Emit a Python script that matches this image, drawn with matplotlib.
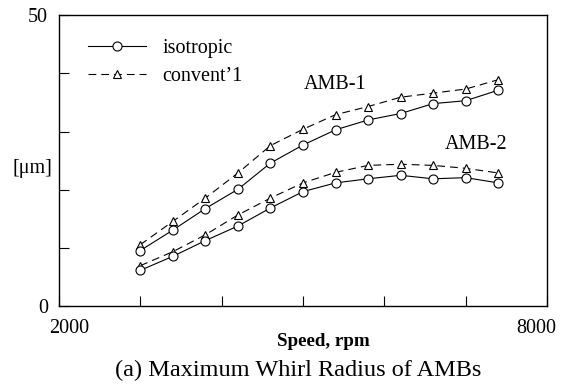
# -*- coding: utf-8 -*-
"""
maximum whirl radius of AMBs vs speed
"""
import matplotlib
matplotlib.use('Agg')
import matplotlib.pyplot as plt
import matplotlib.transforms as mtransforms

#################### data
speed = [3000, 3400, 3800, 4200, 4600, 5000, 5400, 5800, 6200, 6600, 7000, 7400]
amb1_iso  = [9.6, 13.1, 16.8, 20.1, 24.6, 27.7, 30.3, 32.0, 33.1, 34.8, 35.3, 37.1]
amb1_conv = [10.6, 14.6, 18.6, 22.9, 27.6, 30.4, 32.9, 34.3, 35.9, 36.6, 37.3, 38.9]
amb2_iso  = [6.2, 8.6, 11.3, 13.8, 16.9, 19.7, 21.2, 21.9, 22.5, 21.9, 22.1, 21.2]
amb2_conv = [7.0, 9.4, 12.3, 15.7, 18.6, 21.2, 23.0, 24.2, 24.4, 24.2, 23.7, 22.9]

xticks = [2000, 3000, 4000, 5000, 6000, 7000, 8000]
xticklabels = ['2000', '', '', '', '', '', '8000']
yticks = [0, 10, 20, 30, 40, 50]
yticklabels = ['0', '', '', '', '', '50']

plt.rcParams['font.family'] = ['Liberation Serif', 'DejaVu Serif']

#################### plot
fig = plt.figure(figsize=(5.64, 3.85), dpi=100)
ax = fig.add_axes([0.1046, 0.204, 0.8653, 0.757])

solid = dict(color='black', lw=0.8, ls='-', marker='o', ms=6.5,
             mfc='white', mec='black', mew=0.8)
dashed = dict(color='black', lw=0.8, ls=(0, (7, 4.5)), marker='^', ms=6,
              mfc='white', mec='black', mew=0.8)

ax.plot(speed, amb1_conv, label="convent\u20191", **dashed)
ax.plot(speed, amb1_iso, label='isotropic', **solid)
ax.plot(speed, amb2_conv, **dashed)
ax.plot(speed, amb2_iso, **solid)

ax.set_xlim(2000, 8000)
ax.set_ylim(0, 50)
ax.set_xticks(xticks)
ax.set_xticklabels(xticklabels, fontsize=14.5)
ax.set_yticks(yticks)
ax.set_yticklabels(yticklabels, fontsize=14.5)
ax.tick_params(direction='in', length=7, width=0.8, pad=8)
ax.tick_params(axis='x', pad=9)
for sp in ax.spines.values():
    sp.set_linewidth(1.0)

# shift the end labels inward a bit, like the original
lbls = ax.get_xticklabels()
lbls[0].set_transform(lbls[0].get_transform() +
                      mtransforms.ScaledTranslation(10/100, 0, fig.dpi_scale_trans))
lbls[-1].set_transform(lbls[-1].get_transform() +
                       mtransforms.ScaledTranslation(-11/100, 0, fig.dpi_scale_trans))

h, l = ax.get_legend_handles_labels()
ax.legend(h[::-1], l[::-1], loc='upper left', bbox_to_anchor=(0.022, 0.98),
          frameon=False, fontsize=14.5, handlelength=2.9, handletextpad=0.8,
          labelspacing=0.45, numpoints=1)

ax.text(5400, 38.1, 'AMB-1', fontsize=14.5, ha='center', va='center')
ax.text(7130, 27.7, 'AMB-2', fontsize=14.5, ha='center', va='center')
ax.text(-0.055, 0.475, '[\u03bcm]', fontsize=14.5, ha='center', va='center',
        transform=ax.transAxes)

fig.text(323.5/564, 1-341/385, 'Speed, rpm', fontsize=13.7, fontweight='bold',
         ha='center', va='center')
fig.text(298/564, 1-370/385, '(a) Maximum Whirl Radius of AMBs', fontsize=17.5,
         ha='center', va='center')

fig.savefig('out.png', dpi=100)
